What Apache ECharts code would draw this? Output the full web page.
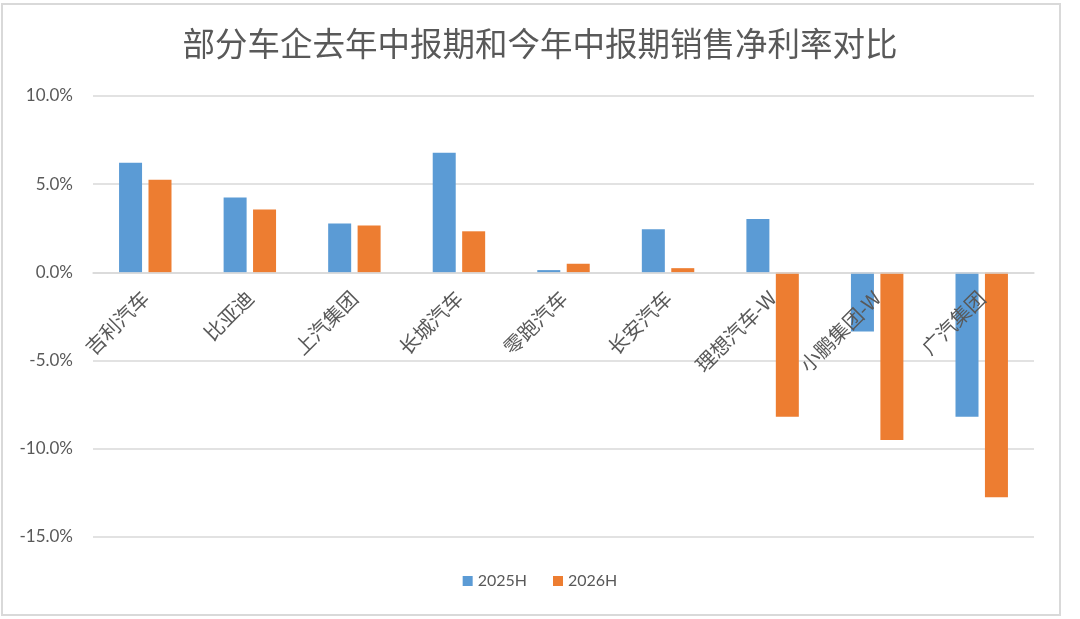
<!DOCTYPE html>
<html lang="zh">
<head>
    <meta charset="UTF-8">
    <title>部分车企去年中报期和今年中报期销售净利率对比</title>
    <script src="https://cdn.jsdelivr.net/npm/echarts@6/dist/echarts.min.js"></script>
    <style>
        html, body { margin: 0; padding: 0; background: #fff; }
        #myCharts { width: 1080px; height: 619px; }
    </style>
</head>
<body>
<div id="myCharts"></div>
<script>
    // 数据（%）
    const companies = ['吉利汽车', '比亚迪', '上汽集团', '长城汽车', '零跑汽车', '长安汽车', '理想汽车-W', '小鹏集团-W', '广汽集团'];
    const h2025 = [6.21, 4.24, 2.77, 6.78, 0.13, 2.45, 3.03, -3.35, -8.18];
    const h2026 = [5.25, 3.56, 2.66, 2.33, 0.49, 0.24, -8.18, -9.50, -12.75];
    const seriesNames = ['2025H', '2026H'];
    const yTicks = [-15, -10, -5, 0, 5, 10];

    const textColor = '#595959';
    const gridColor = '#d9d9d9';
    const cjk = '"Noto Sans CJK SC", sans-serif';
    const num = 'Lato, "Noto Sans CJK SC", sans-serif';

    const gridTop = 96, gridBottom = 82, chartH = 619;
    const yMin = yTicks[0], yMax = yTicks[yTicks.length - 1];
    // 类目轴移到 0 线处
    const plotH = chartH - gridTop - gridBottom;
    const zeroOffset = -plotH * (0 - yMin) / (yMax - yMin);

    let myChart = echarts.init(document.getElementById('myCharts'));
    myChart.setOption({
        animation: false,
        color: ['#5B9BD5', '#ED7D31'],
        title: {
            text: '部分车企去年中报期和今年中报期销售净利率对比',
            left: 'center',
            top: 22,
            textStyle: {fontSize: 32.5, fontWeight: 'normal', color: textColor, fontFamily: cjk}
        },
        legend: {
            data: seriesNames,
            bottom: 25,
            left: 'center',
            icon: 'rect',
            itemWidth: 10,
            itemHeight: 10,
            itemGap: 26,
            textStyle: {fontSize: 16, color: textColor, fontFamily: num}
        },
        grid: {left: 93, right: 46, top: gridTop, bottom: gridBottom, containLabel: false},
        xAxis: {
            type: 'category',
            data: companies,
            z: 10,
            position: 'bottom',
            offset: zeroOffset,
            axisLine: {onZero: false, lineStyle: {color: gridColor, width: 1.5}},
            axisTick: {show: false},
            axisLabel: {
                rotate: 45,
                margin: 22,
                interval: 0,
                fontSize: 20,
                color: textColor,
                fontFamily: cjk
            }
        },
        yAxis: {
            type: 'value',
            min: yMin,
            max: yMax,
            interval: 5,
            axisLine: {show: false},
            axisTick: {show: false},
            splitLine: {lineStyle: {color: gridColor, width: 1.5}},
            axisLabel: {
                margin: 20,
                fontSize: 17,
                color: textColor,
                fontFamily: num,
                formatter: v => v.toFixed(1) + '%'
            }
        },
        graphic: [{
            type: 'rect',
            shape: {x: 2, y: 4, width: 1058, height: 611},
            style: {fill: 'none', stroke: '#d9d9d9', lineWidth: 2},
            silent: true
        }],
        series: [
            {name: seriesNames[0], type: 'bar', data: h2025, barWidth: 23, barGap: '28%'},
            {name: seriesNames[1], type: 'bar', data: h2026, barWidth: 23, barGap: '28%'}
        ]
    });
</script>
</body>
</html>
